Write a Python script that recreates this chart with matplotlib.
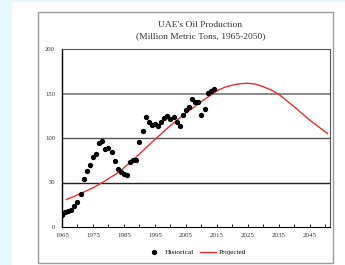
import matplotlib
matplotlib.use("Agg")
import matplotlib.pyplot as plt
from matplotlib.patches import Rectangle

hist_years = list(range(1965, 2015))
hist_values = [13, 17, 18, 19, 24, 28, 37, 54, 63, 70,
               79, 82, 94, 97, 88, 89, 84, 74, 65, 62,
               60, 58, 73, 75, 75, 95, 108, 124, 118, 115,
               116, 113, 118, 122, 125, 121, 124, 118, 113, 126,
               131, 135, 144, 140, 141, 126, 133, 151, 153, 155]

proj_years = [1966.5, 1970, 1975, 1978.5, 1983.5, 1990, 1995.5, 2000, 2005, 2010,
              2012.5, 2015, 2017.5, 2020, 2022.5, 2025, 2027.5, 2030, 2032.5, 2035,
              2040, 2045, 2050.7]
proj_values = [31, 36, 44, 51, 62, 82, 100, 114, 128, 141,
               147, 153, 157, 159.5, 161, 161.5, 160.5, 157.5, 154, 149,
               135, 120, 105]

yticks = [0, 50, 100, 150, 200]
xticks = [1965, 1975, 1985, 1995, 2005, 2015, 2025, 2035, 2045]

W, H = 345, 265
fig = plt.figure(figsize=(W / 100, H / 100), dpi=100)
fig.patch.set_facecolor("#e6f8fc")
fig.patches.append(Rectangle((12 / W, 0), 1 - 12 / W, 1 - 2 / H, transform=fig.transFigure,
                             facecolor="white", edgecolor="none", zorder=-2))
fig.patches.append(Rectangle((38 / W, 1 - 263 / H), (333 - 38) / W, (263 - 12) / H,
                             transform=fig.transFigure, facecolor="white",
                             edgecolor="#9a9a9a", linewidth=1.0, zorder=-1))

serif = "Liberation Serif"
ax = fig.add_axes([62 / W, 1 - 227 / H, (330 - 62) / W, (227 - 49) / H])
ax.set_zorder(5)
ax.set_facecolor("white")
ax.set_xlim(1965, 2051.5)
ax.set_ylim(0, 200)

for v, c, lw in [(50, "#222222", 1.0), (100, "#555555", 1.0), (150, "#888888", 1.4)]:
    ax.axhline(v, color=c, linewidth=lw, zorder=1)

ax.plot(proj_years, proj_values, color="#ee2b2b", linewidth=1.0, zorder=2, label="Projected")
ax.plot(hist_years, hist_values, "o", color="black", markersize=2.8, zorder=3, label="Historical")

ax.set_yticks(yticks)
ax.set_yticklabels([str(t) for t in yticks], fontfamily=serif, fontsize=4.8, color="#333333")
ax.set_xticks(xticks)
ax.set_xticks(list(range(1965, 2052, 5)), minor=True)
ax.set_xticklabels([str(t) for t in xticks], fontfamily=serif, fontsize=5, color="#333333")
ax.tick_params(axis="y", length=0, pad=5)
ax.tick_params(axis="x", which="both", length=2, width=0.6, direction="in", pad=4)
for s in ax.spines.values():
    s.set_color("#555555")
    s.set_linewidth(0.8)
ax.spines["left"].set_color("black")
ax.spines["left"].set_linewidth(1.0)
ax.spines["bottom"].set_color("black")

fig.text(200 / W, 1 - 25 / H, "UAE's Oil Production", ha="center", va="center",
         fontfamily=serif, fontsize=6.8, color="#333333")
fig.text(201 / W, 1 - 36 / H, "(Million Metric Tons, 1965-2050)", ha="center", va="center",
         fontfamily=serif, fontsize=6.8, color="#333333")

handles, labels = ax.get_legend_handles_labels()
leg = fig.legend(handles[::-1], labels[::-1], loc="center", bbox_to_anchor=(196 / W, 1 - 252 / H),
                 ncol=2, frameon=False, prop={"family": serif, "size": 5.2},
                 handlelength=2.2, columnspacing=0.8, handletextpad=0.4)
leg.set_zorder(6)

fig.savefig("out.png", dpi=100, facecolor=fig.get_facecolor())
